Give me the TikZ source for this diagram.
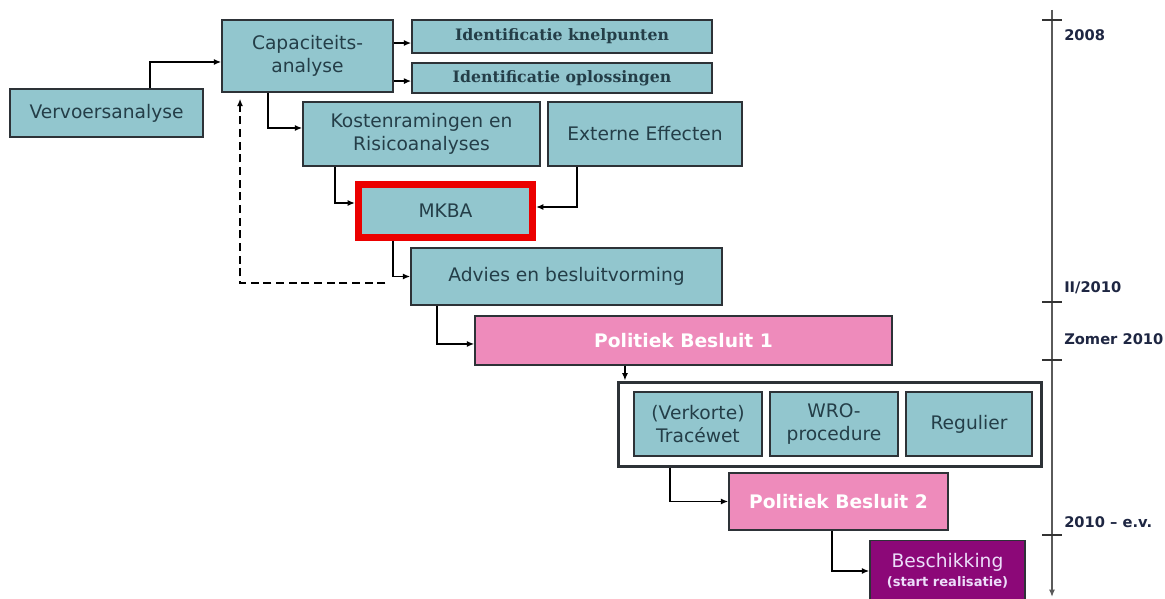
\documentclass[tikz,border=0pt]{standalone}
\usepackage{fontspec}
\setmainfont{DejaVu Sans}
\newfontfamily\slabfont{DejaVu Serif}
\usetikzlibrary{arrows.meta}

\definecolor{boxteal}{RGB}{146,198,206}
\definecolor{boxline}{RGB}{45,50,55}
\definecolor{boxtext}{RGB}{36,62,72}
\definecolor{besluitpink}{RGB}{238,139,187}
\definecolor{beschpurple}{RGB}{140,8,120}
\definecolor{beschtext}{RGB}{236,222,250}
\definecolor{mkbared}{RGB}{235,0,0}
\definecolor{yearnavy}{RGB}{30,38,66}
\definecolor{timegrey}{RGB}{90,90,90}

\tikzset{
  procbox/.style={draw=boxline,fill=boxteal,line width=1.1pt,inner sep=0pt,
    text=boxtext,align=center,font=\fontsize{14}{17}\selectfont},
  idbox/.style={procbox,font=\slabfont\bfseries\fontsize{11.8}{13}\selectfont},
  besluitbox/.style={procbox,fill=besluitpink,text=white,
    font=\bfseries\fontsize{14}{17}\selectfont},
  link/.style={black,line width=1.1pt,->},
  timeline/.style={timegrey,line width=1.1pt},
  yeartick/.style={black!80,line width=1.5pt},
  yearlabel/.style={anchor=west,inner sep=0pt,text=yearnavy,
    font=\bfseries\fontsize{11}{13}\selectfont},
}

\begin{document}
\begin{tikzpicture}[>={Latex[length=5.5pt,width=4.5pt]},x=0.75pt,y=-0.75pt]
\useasboundingbox (0,0) rectangle (1165,599);
%%
\node (node_vervoer) at (106.5,113) [procbox,minimum width=144.75pt,minimum height=36pt] {Vervoersanalyse};
  \node (node_capac) at (307.5,56) [procbox,minimum width=128.25pt,minimum height=54pt] {Capaciteits-\\analyse};
  \node (node_knel) at (562,36.5) [idbox,minimum width=225pt,minimum height=24.75pt] {Identificatie knelpunten};
  \node (node_oplos) at (562,78) [idbox,minimum width=225pt,minimum height=22.5pt] {Identificatie oplossingen};
  \node (node_kosten) at (421.5,134) [procbox,minimum width=177.75pt,minimum height=48pt] {Kostenramingen en\\Risicoanalyses};
  \node (node_extern) at (645,134) [procbox,minimum width=145.5pt,minimum height=48pt] {Externe Effecten};
  \node (node_mkba) at (445.5,211) [procbox,draw=mkbared,line width=5.25pt,minimum width=130.5pt,minimum height=39.75pt] {MKBA};
  \node (node_advies) at (566.5,276.5) [procbox,minimum width=233.25pt,minimum height=42.75pt] {Advies en besluitvorming};
  \node (node_pb1) at (683.5,340.5) [besluitbox,minimum width=312.75pt,minimum height=36.75pt] {Politiek Besluit 1};
  \node (node_box) at (829.5,424) [draw=boxline,line width=2.25pt,minimum width=317.25pt,minimum height=63pt] {};
  \node (node_trace) at (698,424) [procbox,minimum width=96pt,minimum height=48pt] {(Verkorte)\\Tracéwet};
  \node (node_wro) at (834,424) [procbox,minimum width=96pt,minimum height=48pt] {WRO-\\procedure};
  \node (node_regulier) at (969,424) [procbox,minimum width=94.5pt,minimum height=48pt] {Regulier};
  \node (node_pb2) at (838.5,501.5) [besluitbox,minimum width=164.25pt,minimum height=42.75pt] {Politiek Besluit 2};
  \node (node_besch) at (947.5,571) [procbox,fill=beschpurple,text=beschtext,minimum width=116.25pt,minimum height=45.75pt,
    font=\fontsize{14}{14}\selectfont] {Beschikking\\{\bfseries\fontsize{9.8}{11}\selectfont(start realisatie)}};
%
  \coordinate (knel_in) at ([yshift=-4.9pt]node_knel.west);
  \coordinate (oplos_in) at ([yshift=-2.3pt]node_oplos.west);
  \coordinate (pb1_out) at ([xshift=-43.9pt]node_pb1.south);
  \draw [link] ([xshift=32.6pt]node_vervoer.north) |- ([yshift=-4.5pt]node_capac.west);
  \draw [link] (node_capac.east |- knel_in) -- (knel_in);
  \draw [link] (node_capac.east |- oplos_in) -- (oplos_in);
  \draw [link] ([xshift=-29.6pt]node_capac.south) |- ([yshift=4.5pt]node_kosten.west);
  \draw [link] ([xshift=-64.9pt]node_kosten.south) |- ([yshift=6pt]node_mkba.west);
  \draw [link] ([xshift=-51pt]node_extern.south) |- ([yshift=3pt]node_mkba.east);
  \draw [link] ([xshift=-39.4pt]node_mkba.south) |- (node_advies.west);
  \draw [link,dash pattern=on 6pt off 3.5pt] ([xshift=-18.75pt,yshift=-4.9pt]node_advies.west) -| ([xshift=-50.6pt,yshift=-4.5pt]node_capac.south);
  \draw [link] ([xshift=-97.1pt]node_advies.south) |- ([yshift=-2.6pt]node_pb1.west);
  \draw [link] (pb1_out) -- (pb1_out |- node_box.north);
  \draw [link] ([xshift=-119.6pt]node_box.south) |- (node_pb2.west);
  \draw [link] ([xshift=-4.9pt]node_pb2.south) |- (node_besch.west);
%
  \coordinate (time_top) at (1052,10);
  \coordinate (time_end) at (1052,597);
  \draw [timeline,->] (time_top) -- (time_end);
  \draw [yeartick] (1042,20) -- (1062,20);
  \draw [yeartick] (1042,302) -- (1062,302);
  \draw [yeartick] (1042,360) -- (1062,360);
  \draw [yeartick] (1042,535) -- (1062,535);
  \node (year_0) at (1064,35) [yearlabel] {2008};
  \node (year_1) at (1064,288) [yearlabel] {II/2010};
  \node (year_2) at (1064,339) [yearlabel] {Zomer 2010};
  \node (year_3) at (1064,522) [yearlabel] {2010 -- e.v.};
%
\end{tikzpicture}
\end{document}
